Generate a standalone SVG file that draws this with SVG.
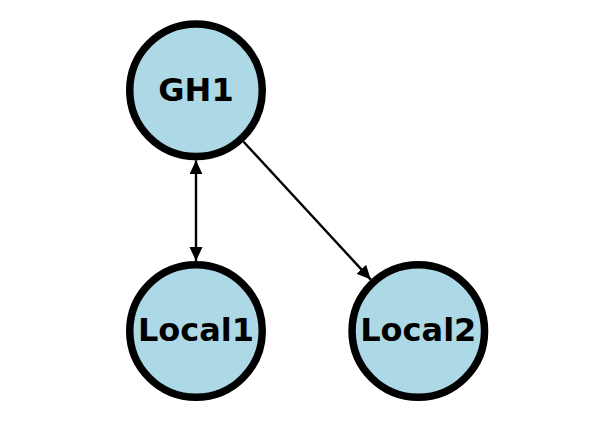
<svg xmlns="http://www.w3.org/2000/svg" width="614" height="422" viewBox="0 0 614 422">
<style>
.node circle{fill:#add8e6;stroke:#000;stroke-width:7.5}
.node text{font-family:"DejaVu Sans",sans-serif;font-weight:bold;font-size:32px;text-anchor:middle;fill:#000}
.edge{stroke:#000;stroke-width:2.4;fill:none}
</style>
<defs>
<marker id="ah" viewBox="0 0 14 14" refX="14" refY="7" markerWidth="14" markerHeight="14" markerUnits="userSpaceOnUse" orient="auto-start-reverse">
<path d="M0,0.5 L14,7 L0,13.5 Z" fill="#000"/>
</marker>
</defs>
<rect width="614" height="422" fill="#fff"/>
<g id="connectors">
<line class="edge" x1="196" y1="160.3" x2="196" y2="261" marker-start="url(#ah)" marker-end="url(#ah)"/>
<line class="edge" x1="243.5" y1="141.7" x2="370.8" y2="279.6" marker-end="url(#ah)"/>
</g>
<g id="GH1" class="node"><circle cx="196" cy="90.3" r="66.25"/><text x="196" y="100.5">GH1</text></g>
<g id="Local1" class="node"><circle cx="196" cy="331" r="66.25"/><text x="196" y="341.2">Local1</text></g>
<g id="Local2" class="node"><circle cx="418.3" cy="331" r="66.25"/><text x="418.3" y="341.2">Local2</text></g>
</svg>
